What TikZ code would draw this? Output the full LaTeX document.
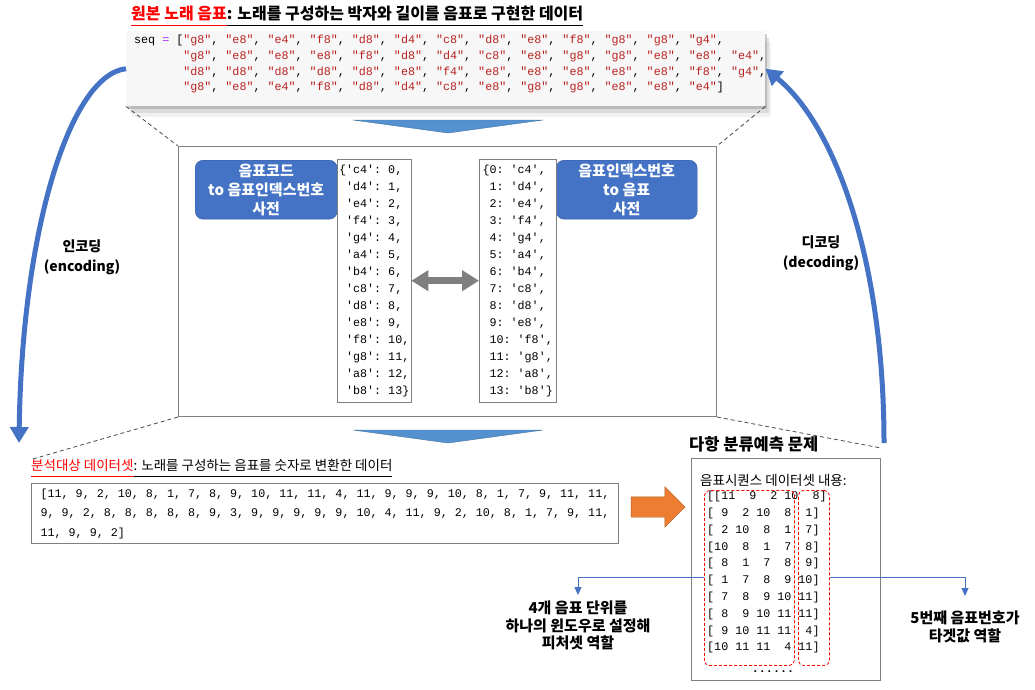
\documentclass[tikz,border=0pt]{standalone}
\usepackage{fontspec}
\setmainfont{Noto Sans CJK KR}
\setmonofont{Liberation Mono}
\usetikzlibrary{positioning, arrows.meta, shapes.arrows, shadows}

\definecolor{encBlue}{HTML}{4472C4}
\definecolor{triBlue}{HTML}{5590D0}
\definecolor{triEdge}{HTML}{41719C}
\definecolor{arrOrange}{HTML}{ED7D31}
\definecolor{strRed}{HTML}{BA2121}
\definecolor{eqPurple}{HTML}{AA22FF}
\definecolor{frameGray}{HTML}{7F7F7F}
\definecolor{codeBg}{HTML}{F7F7F7}

\newcommand{\qn}[1]{\textcolor{strRed}{"#1"}}
\newcommand{\ulin}[1]{\underline{#1\vphantom{gj}}}

\begin{document}
\begin{tikzpicture}[
    x=1pt, y=-1pt, >=Latex,
    code/.style={font=\ttfamily\fontsize{11.7}{15.7}\selectfont, align=left, inner sep=0pt},
    seqbox/.style={fill=codeBg, draw=none,
        drop shadow={shadow xshift=2pt, shadow yshift=-3pt, opacity=.3, fill=black!60},
        drop shadow={shadow xshift=4pt, shadow yshift=-7pt, opacity=.2, fill=black!50},
        drop shadow={shadow xshift=6pt, shadow yshift=-11pt, opacity=.12, fill=black!40}},
    panel/.style={draw=frameGray, line width=1pt, fill=white, inner sep=0pt},
    dictbox/.style={draw=frameGray, fill=white, font=\ttfamily\fontsize{11.7}{17}\selectfont, align=left, inner sep=0pt, anchor=north west, minimum height=243},
    dictlabel/.style={fill=encBlue, draw=encBlue!80!black, rounded corners=8pt, text=white, font=\bfseries\fontsize{15}{19}\selectfont, align=center, inner sep=0pt, anchor=north west, minimum height=59},
    window/.style={draw=red, dash pattern=on 3pt off 2pt, rounded corners=5pt, line width=0.8pt, inner sep=0pt, anchor=north west, minimum height=175},
    pointer/.style={draw=encBlue, line width=1pt, -{Triangle[length=8pt,width=7pt]}},
    codec/.style={draw=encBlue, line width=5pt, -{Triangle[length=16pt,width=18pt]}},
    guide/.style={draw=black!70, dash pattern=on 4pt off 3pt, line width=0.8pt},
    note/.style={font=\bfseries\fontsize{15}{17.5}\selectfont, align=center, inner sep=0pt}
]
\fill[white] (0,0) rectangle (1035,689);
\useasboundingbox (0,0) rectangle (1035,689);

% original song notes
\node[anchor=west, inner sep=0pt, font=\bfseries\fontsize{16}{19}\selectfont] (srcTitle) at (131,16) {\textcolor{red}{\ulin{원본 노래 음표}}\ulin{: 노래를 구성하는 박자와 길이를 음표로 구현한 데이터}};
\node[seqbox, anchor=north west, minimum width=639, minimum height=75] (seqBox) at (126,31) {};
\node[code, anchor=north west] (seqCode) at (134,35) {%
seq \textcolor{eqPurple}{=} [\qn{g8}, \qn{e8}, \qn{e4}, \qn{f8}, \qn{d8}, \qn{d4}, \qn{c8}, \qn{d8}, \qn{e8}, \qn{f8}, \qn{g8}, \qn{g8}, \qn{g4},\\
\hphantom{seq = [}\qn{g8}, \qn{e8}, \qn{e8}, \qn{e8}, \qn{f8}, \qn{d8}, \qn{d4}, \qn{c8}, \qn{e8}, \qn{g8}, \qn{g8}, \qn{e8}, \qn{e8}, \qn{e4},\\
\hphantom{seq = [}\qn{d8}, \qn{d8}, \qn{d8}, \qn{d8}, \qn{d8}, \qn{e8}, \qn{f4}, \qn{e8}, \qn{e8}, \qn{e8}, \qn{e8}, \qn{e8}, \qn{f8}, \qn{g4},\\
\hphantom{seq = [}\qn{g8}, \qn{e8}, \qn{e4}, \qn{f8}, \qn{d8}, \qn{d4}, \qn{c8}, \qn{e8}, \qn{g8}, \qn{g8}, \qn{e8}, \qn{e8}, \qn{e4}]};
\filldraw[fill=triBlue, draw=triEdge] (353,120) -- (543,120) -- (448,133) -- cycle;

% dictionaries
\node[panel, anchor=north west, minimum width=538, minimum height=270] (dictPanel) at (178,146) {};
\draw[guide] (seqBox.south west) -- (dictPanel.north west);
\draw[guide] (seqBox.south east) -- (dictPanel.north east);
\node[dictlabel, minimum width=142] (codeToIdx) at (195,160) {음표코드\\to 음표인덱스번호\\사전};
\node[dictlabel, minimum width=141] (idxToCode) at (556,160) {음표인덱스번호\\to 음표\\사전};
\node[dictbox, minimum width=74] (lDict) at (337,159) {\{'c4': 0,\\~'d4': 1,\\~'e4': 2,\\~'f4': 3,\\~'g4': 4,\\~'a4': 5,\\~'b4': 6,\\~'c8': 7,\\~'d8': 8,\\~'e8': 9,\\~'f8': 10,\\~'g8': 11,\\~'a8': 12,\\~'b8': 13\}};
\node[dictbox, minimum width=77] (rDict) at (479,159) {\{0: 'c4',\\~1: 'd4',\\~2: 'e4',\\~3: 'f4',\\~4: 'g4',\\~5: 'a4',\\~6: 'b4',\\~7: 'c8',\\~8: 'd8',\\~9: 'e8',\\~10: 'f8',\\~11: 'g8',\\~12: 'a8',\\~13: 'b8'\}};
\draw[draw=frameGray, line width=7pt, {Triangle[length=17pt,width=20pt]}-{Triangle[length=17pt,width=20pt]}] (lDict.east) -- (rDict.west);
\filldraw[fill=triBlue, draw=triEdge] (353,430) -- (543,430) -- (448,443) -- cycle;

% dataset for analysis
\node[anchor=west, inner sep=0pt, font=\fontsize{13.5}{16}\selectfont] (dataTitle) at (31,468) {\textcolor{red}{\ulin{분석대상 데이터셋}}\ulin{: 노래를 구성하는 음표를 숫자로 변환한 데이터}};
\draw[guide] (dictPanel.south west) -- (dataTitle.north west);
\node[panel, code, anchor=north west, minimum width=587, minimum height=60, font=\ttfamily\fontsize{11.7}{19.5}\selectfont] (dataBox) at (31,483) {[11, 9, 2, 10, 8, 1, 7, 8, 9, 10, 11, 11, 4, 11, 9, 9, 9, 10, 8, 1, 7, 9, 11, 11,\\
9, 9, 2, 8, 8, 8, 8, 8, 9, 3, 9, 9, 9, 9, 9, 10, 4, 11, 9, 2, 10, 8, 1, 7, 9, 11,\\
11, 9, 9, 2]};
\node[single arrow, draw=arrOrange!75!black, fill=arrOrange, minimum height=54pt, single arrow head extend=10pt, inner xsep=0pt, inner ysep=10pt] (toWindows) at (653,507) {};

% windowed sequences
\node[anchor=west, inner sep=0pt, font=\bfseries\fontsize{16.5}{19}\selectfont] (probTitle) at (689,444) {다항 분류예측 문제};
\node[panel, anchor=north west, minimum width=189, minimum height=222] (dsBox) at (691,458) {};
\draw[guide] (dictPanel.south east) -- ([yshift=10pt]dsBox.north east);
\node[anchor=west, inner sep=0pt, font=\fontsize{13.5}{16}\selectfont] (dsHead) at (700,480) {음표시퀀스 데이터셋 내용:};
\node[code, anchor=north west, font=\ttfamily\fontsize{11.7}{16.8}\selectfont] (dsRows) at (707,491) {[[11~~9~~2~10~~8]\\{}[~9~~2~10~~8~~1]\\{}[~2~10~~8~~1~~7]\\{}[10~~8~~1~~7~~8]\\{}[~8~~1~~7~~8~~9]\\{}[~1~~7~~8~~9~10]\\{}[~7~~8~~9~10~11]\\{}[~8~~9~10~11~11]\\{}[~9~10~11~11~~4]\\{}[10~11~11~~4~11]};
\node[code, font=\ttfamily\bfseries\fontsize{11.7}{14}\selectfont] (dsDots) at (773,672) {......};
\node[window, minimum width=90] (featWin) at (704,490) {};
\node[window, minimum width=31] (targetWin) at (798,490) {};

\node[note, anchor=north] (featLbl) at (578,601) {4개 음표 단위를\\하나의 윈도우로 설정해\\피처셋 역할};
\node[note, anchor=north] (targetLbl) at (965,611) {5번째 음표번호가\\타겟값 역할};
\draw[pointer, shorten >=6pt] (featWin.west) -| (featLbl.north);
\draw[pointer, shorten >=15pt] (targetWin.east) -| (targetLbl.north);

% encoding / decoding
\coordinate (encEnd) at (19,443);
\coordinate (decStart) at (884,443);
\draw[codec] (seqBox.west) .. controls (70,75) and (22,230) .. (encEnd);
\draw[codec] (decStart) .. controls (884,260) and (835,125) .. (seqBox.east);
\node[font=\bfseries\fontsize{14}{20}\selectfont, align=center] (encLbl) at (82,257) {인코딩\\(encoding)};
\node[font=\bfseries\fontsize{14}{20}\selectfont, align=center] (decLbl) at (821,253) {디코딩\\(decoding)};
\end{tikzpicture}
\end{document}
